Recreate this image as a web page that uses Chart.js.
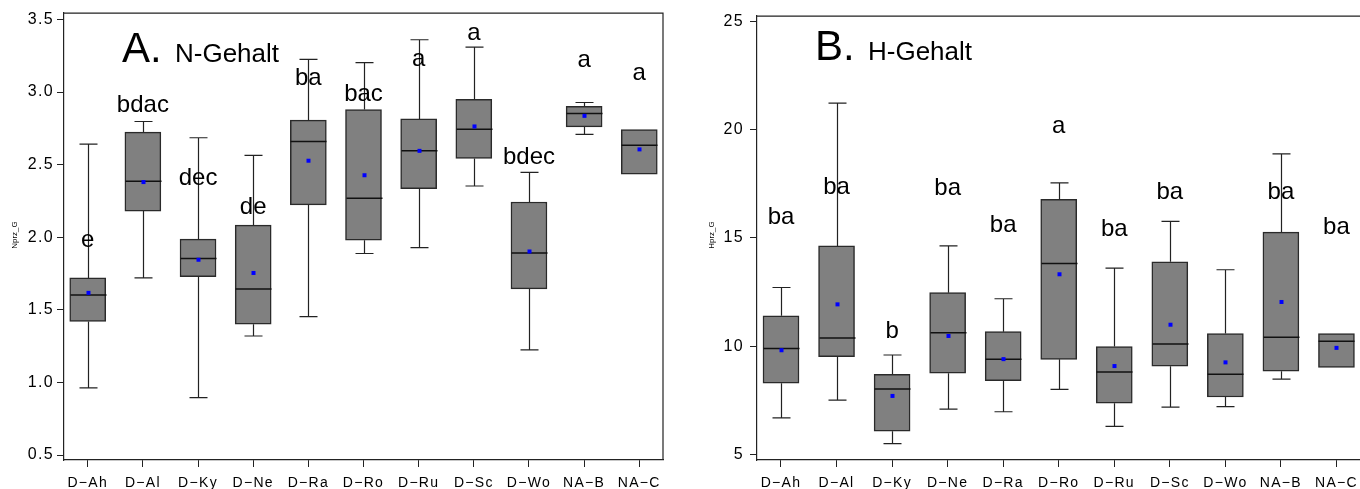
<!DOCTYPE html>
<html>
<head>
<meta charset="utf-8">
<script src="https://cdn.jsdelivr.net/npm/chart.js@4/dist/chart.umd.min.js"></script>
<style>
  html, body { margin:0; padding:0; background:#fff; overflow:hidden; width:1360px; height:489px; }
  canvas { position:absolute; top:0; }
  #cA { left:0; }
  #cB { left:680px; }
</style>
</head>
<body>
<canvas id="cA" width="680" height="489"></canvas>
<canvas id="cB" width="690" height="489"></canvas>
<script>
// ---------- data ----------
const categories = ['D-Ah','D-Al','D-Ky','D-Ne','D-Ra','D-Ro','D-Ru','D-Sc','D-Wo','NA-B','NA-C'];

// Panel A: N-Gehalt (Nprz_G)
const nLow   = [0.962, 1.72, 0.896, 1.32, 1.454, 1.888, 1.928, 2.353, 1.225, 2.708, 2.435];
const nQ1    = [1.42, 2.18, 1.729, 1.401, 2.223, 1.98, 2.335, 2.543, 1.644, 2.76, 2.435];
const nMed   = [1.603, 2.385, 1.854, 1.644, 2.66, 2.269, 2.595, 2.744, 1.891, 2.852, 2.633];
const nQ3    = [1.72, 2.724, 1.987, 2.083, 2.806, 2.88, 2.815, 2.95, 2.243, 2.902, 2.742];
const nHigh  = [2.641, 2.797, 2.685, 2.564, 3.225, 3.202, 3.36, 3.309, 2.447, 2.928, 2.742];
const nMean  = [1.617, 2.38, 1.845, 1.754, 2.527, 2.427, 2.595, 2.763, 1.902, 2.836, 2.605];
const nLetters = ['e','bdac','dec','de','ba','bac','a','a','bdec','a','a'];
const nLetterY = [1.934, 2.861, 2.358, 2.159, 3.051, 2.937, 3.181, 3.36, 2.506, 3.172, 3.081];
const nTicks = [0.5, 1.0, 1.5, 2.0, 2.5, 3.0, 3.5];

// Panel B: H-Gehalt (Hprz_G)
const hLow   = [6.69, 7.51, 5.50, 7.09, 6.97, 8.00, 6.29, 7.18, 7.21, 8.48, 9.02];
const hQ1    = [8.29, 9.51, 6.07, 8.75, 8.40, 9.39, 7.36, 9.07, 7.65, 8.84, 9.02];
const hMed   = [9.89, 10.38, 8.02, 10.62, 9.39, 13.82, 8.80, 10.10, 8.70, 10.41, 10.23];
const hQ3    = [11.40, 14.63, 8.70, 12.47, 10.67, 16.78, 9.98, 13.90, 10.58, 15.27, 10.58];
const hHigh  = [12.71, 21.23, 9.59, 14.63, 12.19, 17.54, 13.60, 15.76, 13.53, 18.88, 10.58];
const hMean  = [9.81, 11.93, 7.70, 10.47, 9.40, 13.32, 9.08, 10.99, 9.25, 12.04, 9.92];
const hLetters = ['ba','ba','b','ba','ba','a','ba','ba','','ba','ba'];
const hLetterY = [15.64, 17.01, 10.38, 16.98, 15.26, 19.86, 15.11, 16.78, null, 16.78, 15.18];
const hTicks = [5, 10, 15, 20, 25];

const FONT = "'Liberation Sans', Arial, Helvetica, sans-serif";

function makeChart(id, p) {
  const boxPlugin = {
    id: 'boxExtras',
    beforeDraw(chart) { chart.ctx.letterSpacing = '1.3px'; },
    beforeDatasetsDraw(chart) { chart.ctx.letterSpacing = '0px'; },
    afterDatasetsDraw(chart) {
      const ctx = chart.ctx, xs = chart.scales.x, ys = chart.scales.y;
      const half = 18, cap = 9;
      ctx.save();
      ctx.letterSpacing = '0px';
      for (let i = 0; i < categories.length; i++) {
        const x = Math.round(xs.getPixelForValue(i)) + 0.5;
        const yq1 = ys.getPixelForValue(p.q1[i]), yq3 = ys.getPixelForValue(p.q3[i]);
        const yl = ys.getPixelForValue(p.low[i]), yh = ys.getPixelForValue(p.high[i]);
        ctx.strokeStyle = '#222';
        ctx.lineWidth = 1.2;
        ctx.beginPath();
        if (p.high[i] > p.q3[i]) {
          ctx.moveTo(x, yq3); ctx.lineTo(x, yh);
          ctx.moveTo(x - cap, yh); ctx.lineTo(x + cap, yh);
        }
        if (p.low[i] < p.q1[i]) {
          ctx.moveTo(x, yq1); ctx.lineTo(x, yl);
          ctx.moveTo(x - cap, yl); ctx.lineTo(x + cap, yl);
        }
        ctx.stroke();
        // median
        const ym = ys.getPixelForValue(p.med[i]);
        ctx.strokeStyle = '#111';
        ctx.lineWidth = 1.5;
        ctx.beginPath();
        ctx.moveTo(x - half, ym); ctx.lineTo(x + half, ym);
        ctx.stroke();
        // mean
        const yMean = ys.getPixelForValue(p.mean[i]);
        ctx.fillStyle = '#0000ff';
        ctx.fillRect(x - 2, yMean - 2, 4, 4);
      }
      ctx.restore();
    },
    afterDraw(chart) {
      const ctx = chart.ctx, xs = chart.scales.x, ys = chart.scales.y, a = chart.chartArea;
      ctx.save();
      ctx.letterSpacing = '0px';
      // frame top/right
      ctx.strokeStyle = '#222';
      ctx.lineWidth = 1.2;
      ctx.beginPath();
      ctx.moveTo(a.left, a.top + 0.5); ctx.lineTo(a.right, a.top + 0.5);
      ctx.lineTo(a.right, a.bottom);
      ctx.stroke();
      // group letters
      ctx.fillStyle = '#000';
      ctx.font = '24px ' + FONT;
      ctx.textAlign = 'center';
      ctx.textBaseline = 'alphabetic';
      for (let i = 0; i < categories.length; i++) {
        if (!p.letters[i]) continue;
        ctx.fillText(p.letters[i], xs.getPixelForValue(i), ys.getPixelForValue(p.letterY[i]));
      }
      // panel title
      ctx.textAlign = 'left';
      ctx.font = '42px ' + FONT;
      ctx.fillText(p.titleBig, p.titleX, p.titleY);
      ctx.font = '26px ' + FONT;
      ctx.fillText(p.titleSmall, p.titleX2, p.titleY);
      // y axis label
      ctx.font = '8px ' + FONT;
      ctx.textAlign = 'center';
      ctx.textBaseline = 'middle';
      ctx.translate(p.yLabelX, 235);
      ctx.rotate(-Math.PI / 2);
      ctx.fillText(p.yLabel, 0, 0);
      ctx.restore();
    }
  };

  return new Chart(document.getElementById(id), {
    type: 'bar',
    data: {
      datasets: [{
        data: categories.map((c, i) => ({ x: i, y: [p.q1[i], p.q3[i]] })),
        backgroundColor: '#808080',
        borderColor: '#2a2a2a',
        borderWidth: 1.5,
        borderSkipped: false,
        barThickness: 36
      }]
    },
    options: {
      responsive: false,
      animation: false,
      devicePixelRatio: 1,
      events: [],
      layout: { padding: { top: 11, right: p.padRight, left: 0, bottom: 0 } },
      plugins: { legend: { display: false }, tooltip: { enabled: false } },
      scales: {
        x: {
          type: 'linear',
          offset: false,
          min: p.xMin, max: p.xMax,
          afterBuildTicks: s => { s.ticks = categories.map((c, i) => ({ value: i })); },
          afterFit: s => { s.height = 29; },
          ticks: {
            callback: v => categories[Math.round(v)].replace('-', '\u2212'),
            font: { family: FONT, size: 14 },
            color: '#000',
            padding: 8,
            maxRotation: 0,
            autoSkip: false
          },
          grid: { display: true, offset: false, drawOnChartArea: false, drawTicks: true, tickLength: 7, color: '#222', tickWidth: 1 },
          border: { display: true, color: '#222', width: 1.2 }
        },
        y: {
          type: 'linear',
          min: p.yMin, max: p.yMax,
          afterBuildTicks: s => { s.ticks = p.ticks.map(v => ({ value: v })); },
          afterFit: s => { s.width = p.yWidth; },
          ticks: {
            callback: v => p.fmt(v),
            font: { family: FONT, size: 16 },
            color: '#000',
            padding: p.yPad
          },
          grid: { display: true, drawOnChartArea: false, drawTicks: true, tickLength: 7, color: '#222', tickWidth: 1 },
          border: { display: true, color: '#222', width: 1.2 }
        }
      }
    },
    plugins: [boxPlugin]
  });
}

makeChart('cA', {
  low: nLow, q1: nQ1, med: nMed, q3: nQ3, high: nHigh, mean: nMean,
  letters: nLetters, letterY: nLetterY, ticks: nTicks,
  fmt: v => v.toFixed(1),
  yMin: 0.466, yMax: 3.547, xMin: -0.43, xMax: 10.43,
  yWidth: 64, yPad: 3, padRight: 17,
  titleBig: 'A.', titleSmall: 'N-Gehalt', titleX: 122, titleX2: 175, titleY: 62,
  yLabel: 'Nprz_G', yLabelX: 15
});

makeChart('cB', {
  low: hLow, q1: hQ1, med: hMed, q3: hQ3, high: hHigh, mean: hMean,
  letters: hLetters, letterY: hLetterY, ticks: hTicks,
  fmt: v => String(v),
  yMin: 4.74, yMax: 25.27, xMin: -0.432, xMax: 10.46,
  yWidth: 77, yPad: 6, padRight: 8,
  titleBig: 'B.', titleSmall: 'H-Gehalt', titleX: 135, titleX2: 188, titleY: 60,
  yLabel: 'Hprz_G', yLabelX: 32
});
</script>
</body>
</html>
